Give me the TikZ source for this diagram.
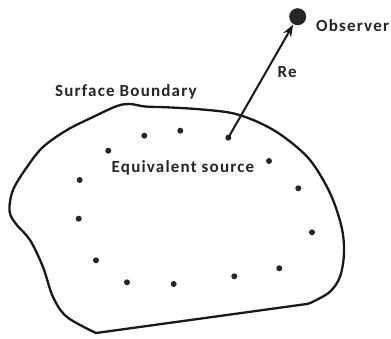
\documentclass[tikz,border=0pt]{standalone}
\usepackage{fontspec}
\setmainfont{Carlito}[LetterSpace=7]
\usetikzlibrary{arrows.meta}
\begin{document}
\begin{tikzpicture}[x=1pt,y=-1pt,
  lbl/.style={anchor=base west,inner sep=0pt,font=\fontsize{17}{20}\selectfont\bfseries,text=black!85},
  src/.style={circle,fill=black!85,inner sep=0pt,minimum size=6pt},
  bnd/.style={line width=2.3pt,black!90,line join=round}]
\useasboundingbox[fill=white] (0,0) rectangle (391,338);
% boundary
\draw[bnd] plot[smooth,tension=0.55] coordinates {
 (96,333) (67,317) (53,297) (43,267) (30,240) (16,224) (9.5,211) (13,190)
 (27,167) (43,147) (67,130) (93,117) (117,106) (130,104) (145,106.5)
 (167,107.3) (200,109.3) (233,113.3) (260,123) (284,137) (310,160) (330,193)
 (341.5,226.7) (344,253) (340,276.7) (330,291.7) (313,301.7) (306.7,304)} -- cycle;
% sources
\node[src] (s1) at (144.3,135.7) {};
\node[src] (s2) at (180.3,130.7) {};
\node[src] (s0) at (228.3,137.7) {};
\node[src] (s3) at (108.3,150.7) {};
\node[src] (s4) at (269,161) {};
\node[src] (s5) at (79.7,180) {};
\node[src] (s6) at (298.3,188.3) {};
\node[src] (s7) at (78.7,218.7) {};
\node[src] (s8) at (312,232.3) {};
\node[src] (s9) at (96,260.3) {};
\node[src] (s10) at (279.3,268.3) {};
\node[src] (s11) at (127,282.3) {};
\node[src] (s12) at (173.7,284) {};
\node[src] (s13) at (234.3,276.3) {};
% observer
\node[circle,fill=black!85,inner sep=0pt,minimum size=17pt] (obs) at (297.7,16.7) {};
\draw[line width=2pt,black!90,-{Stealth[length=12pt,width=9pt]},shorten >=0.5pt] (s0.center) -- (obs);
% labels
\node[lbl] (tobs) at (316,31) {Observer};
\node[lbl] (tre) at (277.3,77.7) {Re};
\node[lbl] (tsb) at (55,96) {Surface Boundary};
\node[lbl] (tes) at (111.5,172) {Equivalent source};
\end{tikzpicture}
\end{document}
